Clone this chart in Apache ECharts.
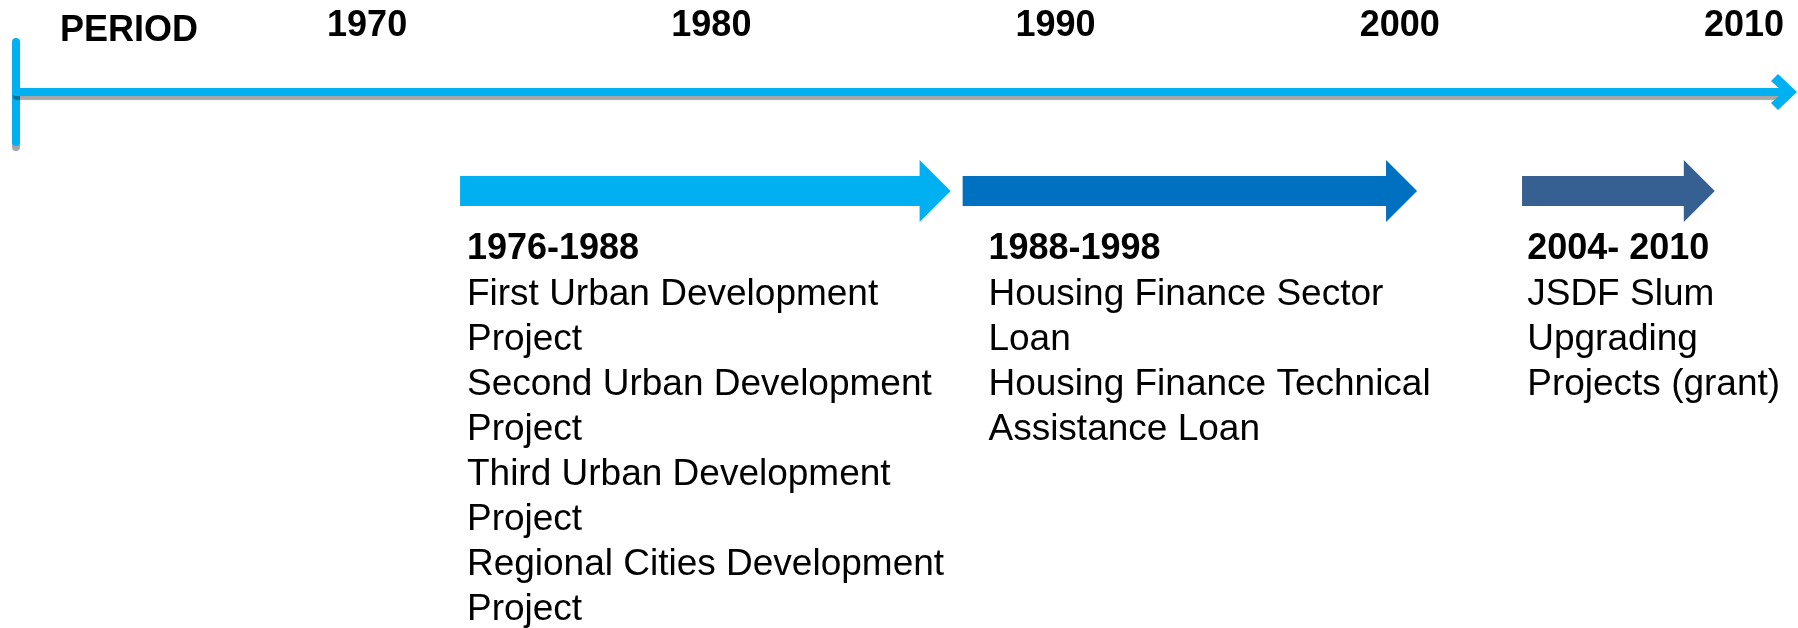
<!DOCTYPE html>
<html>
<head>
<meta charset="utf-8">
<title>Timeline</title>
<script src="https://cdn.jsdelivr.net/npm/echarts@6/dist/echarts.min.js"></script>
<style>
  html, body { margin: 0; padding: 0; background: #fff; }
  #chart { width: 1798px; height: 628px; }
</style>
</head>
<body>
<div id="chart"></div>
<script>
  // year ticks along the top of the timeline
  const yearTicks = [1970, 1980, 1990, 2000, 2010]
  // period titles (bold line under each arrow)
  const periodNames = ['1976-1988', '1988-1998', '2004- 2010']
  // projects of each period, wrapped like in the slide
  const periodProjects = [
    ['First Urban Development\nProject', 'Second Urban Development\nProject', 'Third Urban Development\nProject', 'Regional Cities Development\nProject'],
    ['Housing Finance Sector\nLoan', 'Housing Finance Technical\nAssistance Loan'],
    ['JSDF Slum\nUpgrading\nProjects (grant)']
  ]
  // arrow extent on the year axis
  const arrowStart = [1972.7, 1987.3, 2003.55]
  const arrowEnd = [1986.95, 2000.5, 2009.15]
  // where each text block starts on the year axis
  const textStart = [1972.9, 1988.05, 2003.7]
  const arrowColors = ['#00B0F0', '#0070C0', '#376092']

  // visible range of the year axis (the line runs past 1970 and 2010)
  const axisMin = 1959.8
  const axisMax = 2011.16

  const FONT = '"Liberation Sans", Arial, sans-serif'
  const CYAN = '#00B0F0'
  const SHADOW = 'rgba(0,0,0,0.35)'

  const chart = echarts.init(document.getElementById('chart'))

  // chevron pointing up, echarts turns it to the end of the axis
  const chevron = 'path://M18,0 L36,19 L29,26 L18,14 L7,26 L0,19 Z'

  const option = {
    animation: false,
    title: {
      text: 'PERIOD',
      left: 55,
      top: 8,
      textStyle: { fontSize: 36, fontWeight: 'bold', color: '#000', fontFamily: FONT }
    },
    grid: [
      // horizontal timeline, its top edge is the line
      { left: 16, right: 14, top: 92, height: 20, outerBoundsMode: 'none' },
      // arrows and texts
      { left: 16, right: 14, top: 150, bottom: 0, outerBoundsMode: 'none' },
      // short vertical bar at the start of the timeline
      { left: 16, top: 42, width: 20, height: 100, outerBoundsMode: 'none' }
    ],
    xAxis: [
      {
        gridIndex: 0,
        type: 'value',
        position: 'top',
        min: axisMin,
        max: axisMax,
        axisLine: {
          show: true,
          onZero: false,
          symbol: ['none', chevron],
          symbolSize: [36, 26],
          lineStyle: {
            color: CYAN, width: 8,
            shadowColor: SHADOW, shadowOffsetY: 4, shadowOffsetX: 1, shadowBlur: 1
          }
        },
        axisTick: { show: false },
        splitLine: { show: false },
        axisLabel: {
          customValues: yearTicks,
          formatter: v => String(v),
          margin: 48,
          fontSize: 36,
          fontWeight: 'bold',
          color: '#000',
          fontFamily: FONT
        }
      },
      { gridIndex: 1, type: 'value', min: axisMin, max: axisMax, show: false },
      { gridIndex: 2, type: 'value', min: 0, max: 1, show: false }
    ],
    yAxis: [
      { gridIndex: 0, type: 'value', min: 0, max: 1, show: false },
      { gridIndex: 1, type: 'value', min: 0, max: 1, show: false },
      {
        gridIndex: 2,
        type: 'value',
        min: 0,
        max: 1,
        position: 'left',
        axisLine: {
          show: true,
          onZero: false,
          lineStyle: { color: CYAN, width: 8, shadowColor: SHADOW, shadowOffsetY: 5, shadowBlur: 0 }
        },
        axisTick: { show: false },
        axisLabel: { show: false },
        splitLine: { show: false }
      }
    ],
    series: [
      {
        type: 'custom',
        xAxisIndex: 1,
        yAxisIndex: 1,
        clip: false,
        data: arrowStart.map((s, i) => [s, arrowEnd[i], textStart[i]]),
        encode: { x: [0, 1, 2] },
        renderItem(params, api) {
          const i = params.dataIndex
          const x0 = api.coord([api.value(0), 0])[0]
          const x1 = api.coord([api.value(1), 0])[0]
          const xt = api.coord([api.value(2), 0])[0]
          // arrow centre line
          const cy = params.coordSys.y + 41
          const head = 31
          const body = 15
          const wing = 31
          const points = [
            [x0, cy - body], [x1 - head, cy - body], [x1 - head, cy - wing],
            [x1, cy], [x1 - head, cy + wing], [x1 - head, cy + body], [x0, cy + body]
          ]
          const textTop = cy + 36
          return {
            type: 'group',
            children: [
              { type: 'polygon', shape: { points }, style: { fill: arrowColors[i] } },
              {
                type: 'text', x: xt, y: textTop,
                style: {
                  text: periodNames[i], fill: '#000',
                  font: 'bold 36px ' + FONT, lineHeight: 45, verticalAlign: 'top'
                }
              },
              {
                type: 'text', x: xt, y: textTop + 45,
                style: {
                  text: periodProjects[i].join('\n'), fill: '#000',
                  font: '37px ' + FONT, lineHeight: 45, verticalAlign: 'top'
                }
              }
            ]
          }
        }
      }
    ]
  }

  chart.setOption(option)
</script>
</body>
</html>
